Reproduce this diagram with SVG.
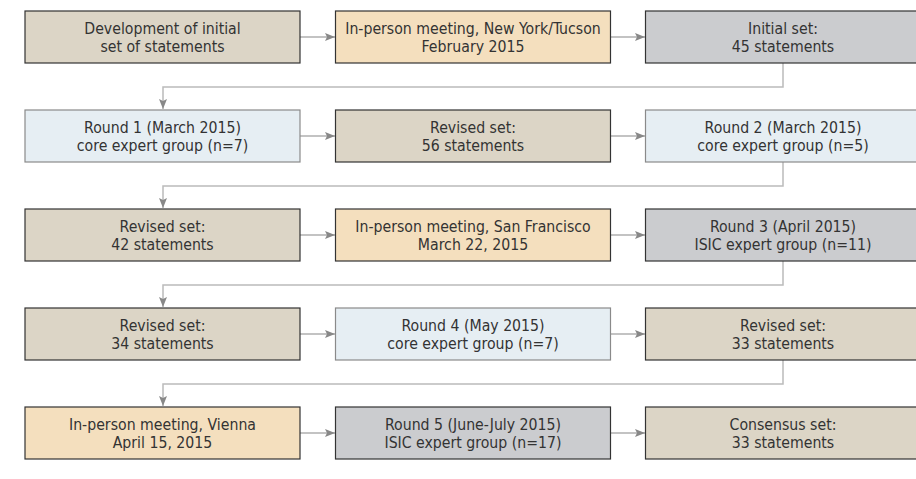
<svg xmlns="http://www.w3.org/2000/svg" width="916" height="479" viewBox="0 0 916 479">
<style>
rect{stroke-width:1.2}
.tan{fill:#dcd5c6;stroke:#333}
.org{fill:#f4dfbe;stroke:#333}
.gry{fill:#cbcccf;stroke:#333}
.blu{fill:#e6eef3;stroke:#8a8a8a}
text{font-family:"DejaVu Sans Condensed","Liberation Sans Narrow","Liberation Sans",sans-serif;font-size:15.7px;fill:#333;text-anchor:middle}
.h{stroke:#888;stroke-width:1.2;fill:none}
.t{stroke:#bbb;stroke-width:1.5;fill:none}
</style>
<defs>
<marker id="ah" viewBox="0 0 10 10" refX="10" refY="5" markerWidth="10" markerHeight="10" markerUnits="userSpaceOnUse" orient="auto">
<path d="M0,1 L10,5 L0,9 L2,5 Z" fill="#888"/>
</marker>
</defs>
<g id="connectors">
<path class="h" d="M300,37 H335" marker-end="url(#ah)"/>
<path class="h" d="M610,37 H645" marker-end="url(#ah)"/>
<path class="t" d="M783,63 V87 H163 V109" marker-end="url(#ah)"/>
<path class="h" d="M300,136 H335" marker-end="url(#ah)"/>
<path class="h" d="M610,136 H645" marker-end="url(#ah)"/>
<path class="t" d="M783,162 V186 H163 V208" marker-end="url(#ah)"/>
<path class="h" d="M300,235 H335" marker-end="url(#ah)"/>
<path class="h" d="M610,235 H645" marker-end="url(#ah)"/>
<path class="t" d="M783,261 V285 H163 V307" marker-end="url(#ah)"/>
<path class="h" d="M300,334 H335" marker-end="url(#ah)"/>
<path class="h" d="M610,334 H645" marker-end="url(#ah)"/>
<path class="t" d="M783,360 V384 H163 V406" marker-end="url(#ah)"/>
<path class="h" d="M300,433 H335" marker-end="url(#ah)"/>
<path class="h" d="M610,433 H645" marker-end="url(#ah)"/>
</g>
<g id="n1"><rect class="tan" x="25" y="11" width="275" height="52"/><text x="162.5" y="34">Development of initial</text><text x="162.5" y="52">set of statements</text></g>
<g id="n2"><rect class="org" x="335.5" y="11" width="275" height="52"/><text x="473" y="34">In-person meeting, New York/Tucson</text><text x="473" y="52">February 2015</text></g>
<g id="n3"><rect class="gry" x="645.5" y="11" width="275" height="52"/><text x="783" y="34">Initial set:</text><text x="783" y="52">45 statements</text></g>

<g id="n4"><rect class="blu" x="25" y="110" width="275" height="52"/><text x="162.5" y="133">Round 1 (March 2015)</text><text x="162.5" y="151">core expert group (n=7)</text></g>
<g id="n5"><rect class="tan" x="335.5" y="110" width="275" height="52"/><text x="473" y="133">Revised set:</text><text x="473" y="151">56 statements</text></g>
<g id="n6"><rect class="blu" x="645.5" y="110" width="275" height="52"/><text x="783" y="133">Round 2 (March 2015)</text><text x="783" y="151">core expert group (n=5)</text></g>

<g id="n7"><rect class="tan" x="25" y="209" width="275" height="52"/><text x="162.5" y="232">Revised set:</text><text x="162.5" y="250">42 statements</text></g>
<g id="n8"><rect class="org" x="335.5" y="209" width="275" height="52"/><text x="473" y="232">In-person meeting, San Francisco</text><text x="473" y="250">March 22, 2015</text></g>
<g id="n9"><rect class="gry" x="645.5" y="209" width="275" height="52"/><text x="783" y="232">Round 3 (April 2015)</text><text x="783" y="250">ISIC expert group (n=11)</text></g>

<g id="n10"><rect class="tan" x="25" y="308" width="275" height="52"/><text x="162.5" y="331">Revised set:</text><text x="162.5" y="349">34 statements</text></g>
<g id="n11"><rect class="blu" x="335.5" y="308" width="275" height="52"/><text x="473" y="331">Round 4 (May 2015)</text><text x="473" y="349">core expert group (n=7)</text></g>
<g id="n12"><rect class="tan" x="645.5" y="308" width="275" height="52"/><text x="783" y="331">Revised set:</text><text x="783" y="349">33 statements</text></g>

<g id="n13"><rect class="org" x="25" y="407" width="275" height="52"/><text x="162.5" y="430">In-person meeting, Vienna</text><text x="162.5" y="448">April 15, 2015</text></g>
<g id="n14"><rect class="gry" x="335.5" y="407" width="275" height="52"/><text x="473" y="430">Round 5 (June-July 2015)</text><text x="473" y="448">ISIC expert group (n=17)</text></g>
<g id="n15"><rect class="tan" x="645.5" y="407" width="275" height="52"/><text x="783" y="430">Consensus set:</text><text x="783" y="448">33 statements</text></g>
</svg>
